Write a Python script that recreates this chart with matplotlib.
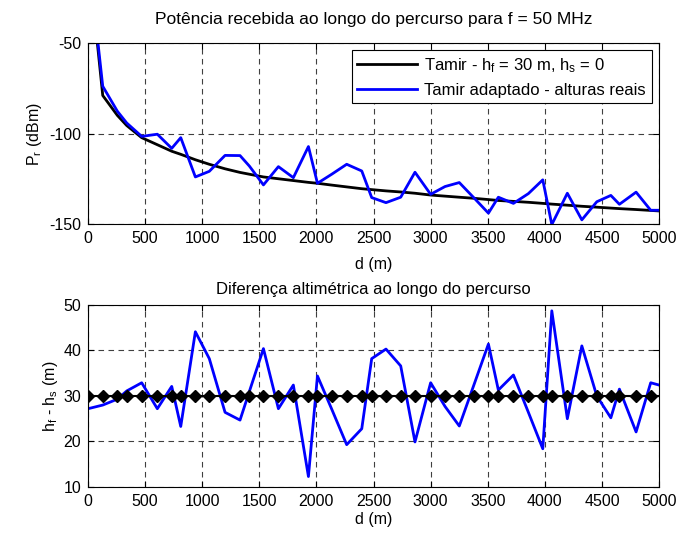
import matplotlib.pyplot as plt
import numpy as np

plt.rcParams['font.family'] = ['Liberation Sans', 'DejaVu Sans']
plt.rcParams['mathtext.fontset'] = 'custom'
plt.rcParams['mathtext.rm'] = 'Liberation Sans'
plt.rcParams['mathtext.it'] = 'Liberation Sans'
plt.rcParams['mathtext.default'] = 'regular'
plt.rcParams['axes.unicode_minus'] = False

# distancias ao longo do percurso (m)
d = [0, 129, 257, 339, 470, 607, 733, 812, 940, 1062, 1200, 1331, 1413, 1536,
     1667, 1798, 1930, 2009, 2134, 2265, 2397, 2484, 2609, 2738, 2863, 3000,
     3126, 3251, 3380, 3506, 3593, 3725, 3856, 3982, 4061, 4197, 4324, 4455,
     4578, 4653, 4799, 4927, 5058]

# potencia recebida - Tamir (hf = 30 m, hs = 0)
pr_tamir = [0, -79.0, -90.0, -95.6, -102.3, -106.2, -109.8, -111.5, -114.5,
            -117.0, -119.5, -121.5, -122.5, -124.0, -125.0, -126.0, -127.0,
            -127.5, -128.5, -129.5, -130.5, -131.0, -131.7, -132.3, -133.0,
            -134.0, -134.6, -135.2, -135.8, -136.5, -137.0, -137.5, -138.0,
            -138.6, -139.0, -139.6, -140.2, -140.7, -141.2, -141.5, -142.0,
            -142.5, -143.0]

# potencia recebida - Tamir adaptado (alturas reais)
pr_real = [0, -73.9, -87.7, -94.2, -101.6, -100.4, -108.2, -102.3, -124.0,
           -120.9, -112.1, -112.2, -118.0, -128.4, -118.3, -124.4, -107.2,
           -127.5, -122.5, -117.0, -120.7, -135.4, -138.2, -135.2, -121.4,
           -133.6, -129.3, -127.1, -135.6, -144.0, -135.2, -138.6, -133.2,
           -125.6, -150.3, -133.0, -147.7, -137.7, -134.2, -139.1, -132.4,
           -142.4, -142.4]

# diferenca altimetrica hf - hs (m)
dh_real = [27.2, 28.0, 29.3, 31.1, 32.9, 27.2, 32.1, 23.3, 44.1, 38.2, 26.4,
           24.7, 31.0, 40.4, 27.2, 32.4, 12.3, 34.4, 27.1, 19.3, 22.8, 38.2,
           40.3, 36.6, 19.9, 32.9, 27.7, 23.4, 32.5, 41.4, 31.3, 34.6, 26.4,
           18.4, 48.7, 25.0, 41.0, 30.0, 25.2, 31.5, 22.1, 32.9, 32.0]
dh_tamir = [30] * len(d)

xticks = np.arange(0, 5001, 500)
fs = 11.5


def estilo(ax):
    ax.set_xlim(0, 5000)
    ax.set_xticks(xticks)
    ax.tick_params(direction='in', top=True, right=True, labelsize=fs,
                   length=4, color='black', pad=5)
    ax.grid(True, color='0.25', linestyle=(0, (5, 4)), linewidth=0.8)
    for s in ax.spines.values():
        s.set_linewidth(0.8)
    ax.set_axisbelow(True)


fig = plt.figure(figsize=(6.93, 5.34), dpi=100)
ax1 = fig.add_axes([0.127, 0.5805, 0.824, 0.339])
ax2 = fig.add_axes([0.127, 0.088, 0.824, 0.341])

ax1.plot(d, pr_tamir, color='black', linewidth=2,
         label='Tamir - h$_f$ = 30 m, h$_s$ = 0')
ax1.plot(d, pr_real, color='#0000ff', linewidth=2,
         label='Tamir adaptado - alturas reais')
ax1.set_ylim(-150, -50)
ax1.set_yticks([-150, -100, -50])
estilo(ax1)
ax1.set_xlabel('d (m)', fontsize=fs, labelpad=8)
ax1.set_ylabel('P$_r$ (dBm)', fontsize=fs, labelpad=4)
ax1.set_title('Potência recebida ao longo do percurso para f = 50 MHz',
              fontsize=12.5, pad=14)
leg = ax1.legend(loc='upper right', fontsize=12, fancybox=False,
                 framealpha=1, edgecolor='black', borderaxespad=0.45,
                 handlelength=3.6, handletextpad=0.4, labelspacing=0.45,
                 borderpad=0.35)
leg.get_frame().set_linewidth(0.8)

ax2.plot(d, dh_real, color='#0000ff', linewidth=2)
ax2.plot(d, dh_tamir, color='black', linewidth=1.5, marker='D',
         markersize=6.5)
ax2.set_ylim(10, 50)
ax2.set_yticks([10, 20, 30, 40, 50])
estilo(ax2)
ax2.set_xlabel('d (m)', fontsize=fs, labelpad=2)
ax2.set_ylabel('h$_f$ - h$_s$ (m)', fontsize=fs, labelpad=2)
ax2.set_title('Diferença altimétrica ao longo do percurso', fontsize=12,
              pad=8)

fig.savefig('out.png', dpi=100)
plt.close()
